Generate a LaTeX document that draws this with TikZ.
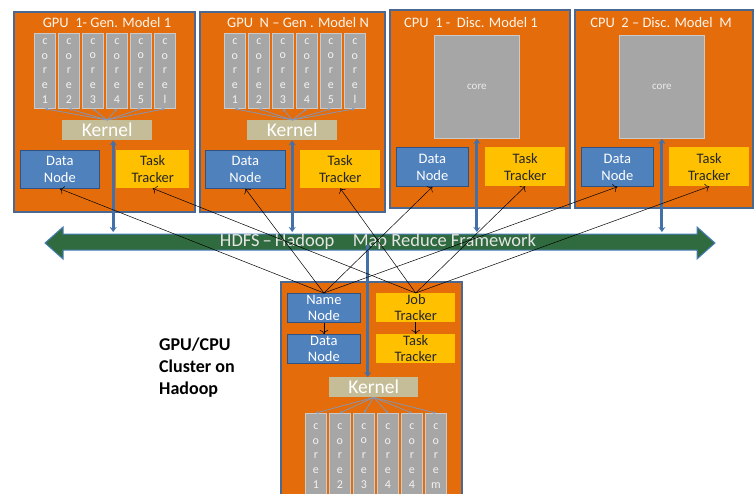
\documentclass[tikz,border=0pt]{standalone}
\usepackage{fontspec}
\setmainfont{Carlito}
\usetikzlibrary{arrows.meta}

\definecolor{hostorange}{HTML}{E46C0A}
\definecolor{hostline}{HTML}{4A6890}
\definecolor{datablue}{HTML}{4F81BD}
\definecolor{dataline}{HTML}{2F5283}
\definecolor{taskyellow}{HTML}{FFC000}
\definecolor{coregray}{HTML}{A6A6A6}
\definecolor{coreline}{HTML}{CACACA}
\definecolor{kerneltan}{HTML}{C4BD97}
\definecolor{bargreen}{HTML}{2F6B3F}
\definecolor{barline}{HTML}{4A7EBB}
\definecolor{busblue}{HTML}{4470A8}
\definecolor{fanblue}{HTML}{7F98C0}

\begin{document}
\begin{tikzpicture}
        [x=1pt, y=-1pt,
        hostbox/.style={draw=hostline, fill=hostorange, line width=1.2pt},
        title/.style={text=white!92!orange, inner sep=0pt,
          font=\fontsize{14.5}{16}\selectfont},
        corecol/.style={draw=coreline, fill=coregray, line width=0.8pt,
          text=white!95!black, anchor=north west, inner sep=0pt,
          minimum width=21pt, minimum height=75pt, align=center,
          font=\fontsize{12}{14.8}\selectfont},
        cpucore/.style={draw=coreline, fill=coregray, line width=0.8pt,
          text=white!92!black, anchor=north west, inner sep=0pt,
          minimum width=85pt, minimum height=103pt,
          font=\fontsize{11}{13}\selectfont},
        kernelbox/.style={fill=kerneltan, text=white, anchor=north west,
          inner sep=0pt, minimum width=90pt, minimum height=20pt,
          font=\fontsize{19.5}{20}\selectfont},
        datanode/.style={draw=dataline, fill=datablue, line width=0.8pt,
          text=white, anchor=north west, inner sep=0pt, align=center,
          font=\fontsize{14.5}{17}\selectfont},
        tasknode/.style={fill=taskyellow, text=black!85, anchor=north west,
          inner sep=0pt, align=center, font=\fontsize{14.5}{17}\selectfont},
        link/.style={-{To[length=4pt]}, line width=0.5pt, black},
        fan/.style={-{Stealth[length=3pt,width=3pt]}, line width=0.7pt, fanblue},
        busline/.style={draw=busblue, line width=3pt,
          {Stealth[length=5pt,width=7pt]}-{Stealth[length=5pt,width=7pt]}},
        bar/.style={draw=barline, fill=bargreen, line width=1pt},
        bartext/.style={text=white!90!black, inner sep=0pt,
          font=\fontsize{18.5}{20}\selectfont},
        clusterlabel/.style={anchor=north west, align=left, inner sep=0pt,
          font=\fontsize{18}{22}\selectfont\bfseries}]

    \clip (0,0) rectangle (754,493);

    % GPU 1
    \draw[hostbox] (14,12) rectangle (195,212);
    \node[title] (t1) at (107,23) {GPU\ \ 1- Gen. Model 1};
    \foreach \i/\lab in {1/1,2/2,3/3,4/4,5/5,6/l}
      \node[corecol] (g1c\i) at ({34+24*(\i-1)},33) {c\\o\\r\\e\\\lab};
    \node[kernelbox] (k1) at (62,120) {Kernel};
    \foreach \i in {1,...,6}
      \draw[fan] (k1.north) -- (g1c\i.south);
    \node[datanode, minimum width=79pt, minimum height=38pt] (dn1) at (20,150) {Data\\Node};
    \node[tasknode, minimum width=73pt, minimum height=38pt] (tt1) at (116,150) {Task\\Tracker};

    % GPU N
    \draw[hostbox] (200,12) rectangle (385,212);
    \node[title] (t2) at (298,23) {GPU\ \ N – Gen . Model N};
    \foreach \i/\lab in {1/1,2/2,3/3,4/4,5/5,6/l}
      \node[corecol] (g2c\i) at ({224+24*(\i-1)},33) {c\\o\\r\\e\\\lab};
    \node[kernelbox] (k2) at (247,120) {Kernel};
    \foreach \i in {1,...,6}
      \draw[fan] (k2.north) -- (g2c\i.south);
    \node[datanode, minimum width=80pt, minimum height=38pt] (dn2) at (205,150) {Data\\Node};
    \node[tasknode, minimum width=80pt, minimum height=38pt] (tt2) at (300,150) {Task\\Tracker};

    % CPU 1
    \draw[hostbox] (390,10) rectangle (570,208);
    \node[title] (t3) at (471,23) {CPU\ \ 1 -\ \ Disc. Model 1};
    \node[cpucore] (c1) at (434,35) {core};
    \node[datanode, minimum width=72pt, minimum height=39pt] (dn3) at (396,147) {Data\\Node};
    \node[tasknode, minimum width=80pt, minimum height=39pt] (tt3) at (485,147) {Task\\Tracker};

    % CPU 2
    \draw[hostbox] (575,10) rectangle (753,208);
    \node[title] (t4) at (661,23) {CPU\ \ 2 – Disc. Model\ \ M};
    \node[cpucore] (c2) at (619,35) {core};
    \node[datanode, minimum width=72pt, minimum height=39pt] (dn4) at (581,147) {Data\\Node};
    \node[tasknode, minimum width=80pt, minimum height=39pt] (tt4) at (669,147) {Task\\Tracker};

    % HDFS bar
    \path[bar] (45,243) -- (63,227) -- (63,234) -- (697,234) -- (697,227)
      -- (715,243) -- (697,259) -- (697,250) -- (63,250) -- (63,259) -- cycle;
    \node[bartext] (hdfs) at (378,242) {HDFS\,–\,Hadoop\quad Map Reduce Framework};
    \coordinate (bartop) at (0,232);
    \coordinate (barmid) at (0,245);

    % cluster host
    \draw[hostbox] (281,282) rectangle (462,500);
    \node[datanode, minimum width=73pt, minimum height=29pt,
      font=\fontsize{14.5}{16}\selectfont] (nn) at (287,293) {Name\\Node};
    \node[datanode, minimum width=73pt, minimum height=29pt,
      font=\fontsize{14.5}{16}\selectfont] (dn5) at (287,334) {Data\\Node};
    \node[tasknode, minimum width=79pt, minimum height=29pt,
      font=\fontsize{14.5}{16}\selectfont] (jt) at (376,293) {Job\\Tracker};
    \node[tasknode, minimum width=79pt, minimum height=29pt,
      font=\fontsize{14.5}{16}\selectfont] (tt5) at (376,334) {Task\\Tracker};
    \node[kernelbox, minimum width=89pt] (k5) at (329,377) {Kernel};
    \foreach \i/\lab in {1/1,2/2,3/3,4/4,5/4,6/m}
      \node[corecol, minimum height=85pt] (g5c\i) at ({305+24*(\i-1)},413) {c\\o\\r\\e\\\lab};
    \foreach \i in {1,...,6}
      \draw[fan] (k5.south) -- (g5c\i.north);
    \draw[link] (nn) -- (dn5);
    \draw[link] (jt) -- (tt5);

    % bus lines to and from the bar
    \coordinate (k1bus) at ([xshift=6pt]k1.south);
    \coordinate (k5bus) at ([xshift=-6pt]k5.north);
    \draw[busline] (k1bus) -- (k1bus |- bartop);
    \draw[busline] (k2.south) -- (k2.south |- bartop);
    \draw[busline] (c1.south) -- (c1.south |- bartop);
    \draw[busline] (c2.south) -- (c2.south |- bartop);
    \draw[busline, -{Stealth[length=5pt,width=7pt]}] (k5bus |- barmid) -- (k5bus);

    % name node and job tracker links
    \foreach \t in {dn1,dn2,dn3,dn4}
      \draw[link] (nn.north) -- (\t.south);
    \foreach \t in {tt1,tt2,tt3,tt4}
      \draw[link] (jt.north) -- (\t.south);

    \node[clusterlabel] (cluster) at (159,338) {GPU/CPU\\Cluster on\\Hadoop};
    \end{tikzpicture}
\end{document}
